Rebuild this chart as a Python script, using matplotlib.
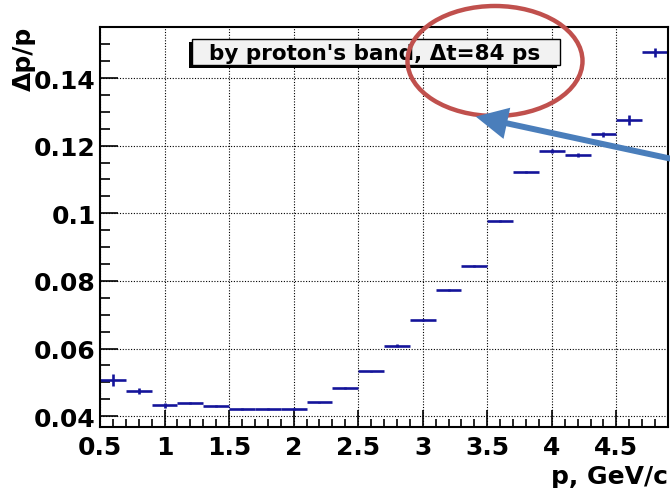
import matplotlib
matplotlib.use("Agg")
import matplotlib.pyplot as plt
from matplotlib.patches import Ellipse, Rectangle, FancyArrowPatch
from matplotlib.ticker import MultipleLocator, FixedLocator

# ---- data ----
p_centers = [0.6, 0.8, 1.0, 1.2, 1.4, 1.6, 1.8, 2.0, 2.2, 2.4, 2.6, 2.8, 3.0,
             3.2, 3.4, 3.6, 3.8, 4.0, 4.2, 4.4, 4.6, 4.8]
bin_half_width = [0.1] * len(p_centers)
dp_over_p = [0.0508, 0.0475, 0.0432, 0.0438, 0.0429, 0.0421, 0.0421, 0.0421,
             0.0441, 0.0483, 0.0533, 0.0609, 0.0685, 0.0774, 0.0843, 0.0977,
             0.1123, 0.1184, 0.1173, 0.1234, 0.1276, 0.1476]
dp_err = [0.0018, 0.0008, 0.0008, 0.0003, 0.0003, 0.0002, 0.0002, 0.0002,
          0.0002, 0.0002, 0.0002, 0.0003, 0.0003, 0.0003, 0.0003, 0.0003,
          0.0003, 0.0006, 0.0005, 0.0007, 0.0014, 0.0014]
xticks = [0.5, 1, 1.5, 2, 2.5, 3, 3.5, 4, 4.5]
xtick_labels = ["0.5", "1", "1.5", "2", "2.5", "3", "3.5", "4", "4.5"]
yticks = [0.04, 0.06, 0.08, 0.1, 0.12, 0.14]
ytick_labels = ["0.04", "0.06", "0.08", "0.1", "0.12", "0.14"]
box_text = "by proton's band, \u0394t=84 ps"

W, H = 670, 489
plt.rcParams['font.family'] = ['DejaVu Sans']
plt.rcParams['font.weight'] = 'bold'

fig = plt.figure(figsize=(W / 100, H / 100), dpi=100)

def fx(px):
    return px / W

def fy(py):
    return 1 - py / H

ax = fig.add_axes([fx(100), fy(428), fx(668) - fx(100), fy(28) - fy(428)])
ax.set_xlim(0.5, 4.9)
ax.set_ylim(0.0368, 0.1551)

ax.errorbar(p_centers, dp_over_p, xerr=bin_half_width, yerr=dp_err,
            fmt='none', ecolor='#14149a', elinewidth=1.9, capsize=0)

ax.xaxis.set_major_locator(FixedLocator(xticks))
ax.set_xticklabels(xtick_labels)
ax.xaxis.set_minor_locator(MultipleLocator(0.1))
ax.yaxis.set_major_locator(FixedLocator(yticks))
ax.set_yticklabels(ytick_labels)
ax.yaxis.set_minor_locator(MultipleLocator(0.005))

ax.tick_params(axis='both', which='both', direction='in', top=False, right=False,
               labelsize=18, width=1.2, colors='black')
ax.tick_params(axis='y', which='major', length=13, pad=3)
ax.tick_params(axis='y', which='minor', length=7)
ax.tick_params(axis='x', which='major', length=12, pad=6)
ax.tick_params(axis='x', which='minor', length=6)
for lab in ax.get_xticklabels() + ax.get_yticklabels():
    lab.set_fontweight('bold')

ax.grid(True, which='major', color='black', linestyle=(0, (1, 1.5)), linewidth=0.8)
for s in ax.spines.values():
    s.set_linewidth(1.5)

# axis titles
fig.text(fx(24), fy(27), "\u0394p/p", rotation=90, ha='center', va='top',
         fontsize=18, fontweight='bold')
fig.text(fx(668), fy(484), "p, GeV/c", ha='right', va='baseline',
         fontsize=18, fontweight='bold')

# text box with shadow
bx0, bx1, by0, by1 = 192, 560, 40, 66
fig.add_artist(Rectangle((fx(bx0 - 3), fy(by1 + 3)), fx(bx1 - bx0), fy(by0) - fy(by1),
                         transform=fig.transFigure, facecolor='black', edgecolor='black',
                         lw=0, zorder=5))
fig.add_artist(Rectangle((fx(bx0), fy(by1)), fx(bx1 - bx0), fy(by0) - fy(by1),
                         transform=fig.transFigure, facecolor='#f2f2f2', edgecolor='black',
                         lw=1.0, zorder=6))
fig.text(fx((bx0 + bx1) / 2 - 1), fy((by0 + by1) / 2 + 1), box_text, ha='center', va='center',
         fontsize=15.5, fontweight='bold', zorder=7)

# red ellipse
fig.add_artist(Ellipse((fx(495), fy(62)), fx(175), fy(7) - fy(117),
                       transform=fig.transFigure, facecolor='none',
                       edgecolor='#c0504d', lw=3.2, zorder=8))

# blue arrow
fig.add_artist(FancyArrowPatch((fx(700), fy(166)), (fx(473), fy(117)),
                               transform=fig.transFigure,
                               arrowstyle='-|>,head_length=10,head_width=5',
                               mutation_scale=1.6, color='#4a7ebb', lw=4.3,
                               joinstyle='miter', capstyle='butt', zorder=9))

fig.savefig("out.png", dpi=100)
